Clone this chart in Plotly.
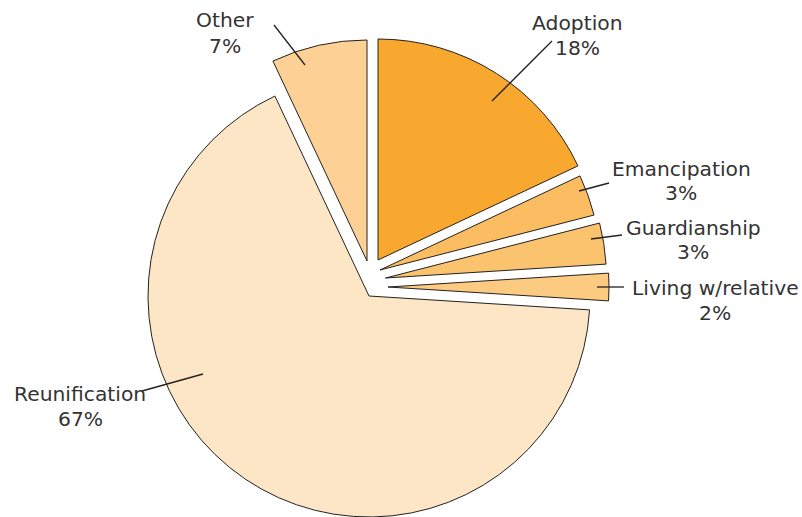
import plotly.graph_objects as go

categories = ["Adoption", "Emancipation", "Guardianship", "Living w/relative", "Reunification", "Other"]
values = [18, 3, 3, 2, 67, 7]
colors = ["#F9A82F", "#FCBD62", "#FCC36F", "#FDCA81", "#FDE6C5", "#FDD195"]

W, H = 802, 517
R = 221  # pie radius in px
# exploded position (apex) of each slice, in px
slice_centers = [(378, 260), (380, 270), (385.5, 278), (388, 287), (369, 296), (367, 261)]

# label centres (px) and leader lines (outer end, inner end) in px
label_pos = [(577, 35), (681, 181), (693, 240), (715, 300), (80, 406), (225, 33)]
leaders = [((552, 41), (492, 101)),
           ((609, 183), (579, 191)),
           ((622, 235), (591, 239)),
           ((624, 287), (597, 287)),
           ((142, 391), (203, 374)),
           ((274, 25), (305, 65))]

total = sum(values)
fig = go.Figure()
cum = 0
for cat, val, col, (cx, cy) in zip(categories, values, colors, slice_centers):
    fig.add_trace(go.Pie(
        labels=[cat, ""],
        values=[val, total - val],
        sort=False,
        direction="clockwise",
        rotation=cum / total * 360,
        marker=dict(colors=[col, "rgba(0,0,0,0)"],
                    line=dict(color="#222222", width=[1, 0])),
        textinfo="none",
        hoverinfo="skip",
        domain=dict(x=[(cx - R) / W, (cx + R) / W],
                    y=[max(0, 1 - (cy + R) / H), min(1, 1 - (cy - R) / H)]),
        showlegend=False,
    ))
    cum += val

font = dict(family="DejaVu Sans", size=20.3, color="#333333")
for cat, val, (lx, ly), ((x0, y0), (x1, y1)) in zip(categories, values, label_pos, leaders):
    fig.add_annotation(x=lx / W, y=1 - (ly - 12.5) / H, xref="paper", yref="paper",
                       text=cat, showarrow=False, xanchor="center", yanchor="middle", font=font)
    fig.add_annotation(x=lx / W, y=1 - (ly + 12.5) / H, xref="paper", yref="paper",
                       text=f"{val}%", showarrow=False, xanchor="center", yanchor="middle", font=font)
    fig.add_shape(type="line", xref="paper", yref="paper",
                  x0=x0 / W, y0=1 - y0 / H, x1=x1 / W, y1=1 - y1 / H,
                  line=dict(color="#222222", width=1.3))

fig.update_layout(
    width=W, height=H,
    margin=dict(l=0, r=0, t=0, b=0),
    paper_bgcolor="white", plot_bgcolor="white",
)

fig.write_html("out.html")
